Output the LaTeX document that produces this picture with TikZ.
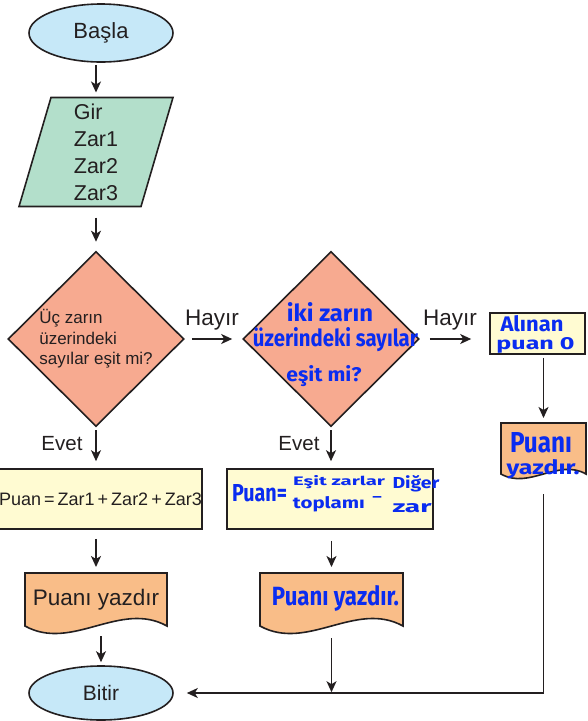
\documentclass[tikz,border=0pt]{standalone}
\usepackage{fontspec}
\setmainfont{Liberation Sans}
\newfontfamily\handfont{Fira Sans}
\usetikzlibrary{shapes.geometric,arrows.meta,calc,backgrounds}

\definecolor{ink}{HTML}{231F20}
\definecolor{termfill}{HTML}{C6E8F8}
\definecolor{parafill}{HTML}{B3DFCB}
\definecolor{decfill}{HTML}{F7AA90}
\definecolor{procfill}{HTML}{FFFBD2}
\definecolor{docfill}{HTML}{F9BD88}
\definecolor{handblue}{HTML}{0A2CF0}

% marker-style writing squeezed into a given width and height
\newcommand\hw[3]{\resizebox{#1}{#2}{\handfont\bfseries #3}}
% printed-output symbol drawn round a rectangular area node
\newcommand\drawdoc[2]{%
  \path[line, fill=docfill] (#1.north west) -- (#1.north east) -- (#1.south east)
    .. controls ($(#1.south east)!0.33!(#1.south west)+(0,-#2)$)
           and ($(#1.south west)!0.33!(#1.south east)+(0,#2)$) .. (#1.south west) -- cycle;}

\tikzset{
  every node/.style={text=ink},
  fs/.style={font=\fontsize{#1}{#1}\selectfont},
  line/.style={draw=ink, line width=1.6pt},
  arr/.style={draw=ink, line width=1.6pt, -{Stealth[length=11pt,width=10pt,inset=3pt]}},
  terminal/.style={ellipse, line, fill=termfill, minimum width=144pt, inner sep=0pt},
  decision/.style={diamond, line, fill=decfill, minimum width=176pt, minimum height=175pt, inner sep=0pt},
  process/.style={rectangle, line, fill=procfill, inner sep=0pt},
  area/.style={rectangle, inner sep=0pt, outer sep=0pt},
  hand/.style={text=handblue, inner sep=0pt},
}

\begin{document}
\begin{tikzpicture}[x=1pt, y=-1pt]
\useasboundingbox (0,0) rectangle (587,721);

% left column
\node[terminal, minimum height=58pt, fs=22] (start) at (101,33) {Başla};
\node[area, minimum width=154pt, minimum height=109pt, align=left,
      font=\fontsize{21.5}{27}\selectfont] (para) at (96,152) {Gir\\Zar1\\Zar2\\Zar3};
\node[decision, align=left, font=\fontsize{17}{20.5}\selectfont] (dia1) at (96,339)
  {Üç zarın\\üzerindeki\\sayılar eşit mi?};
\node[process, minimum width=199pt, minimum height=60pt, fs=18] (box1) at (100.5,499)
  {Puan\,=\,Zar1\,+\,Zar2\,+\,Zar3};
\node[area, minimum width=142pt, minimum height=53pt, fs=22.5] (doc1) at (96,599.5) {Puanı yazdır};
\node[terminal, minimum height=54pt, fs=21] (end) at (101,693) {Bitir};

% middle column
\node[decision] (dia2) at (331,339) {};
\node[hand] (q1) at (330,312) {\hw{86pt}{19pt}{iki zarın}};
\node[hand] (q2) at (335.5,340) {\hw{165pt}{19pt}{üzerindeki sayılar}};
\node[hand] (q3) at (324,376) {\hw{75pt}{16pt}{eşit mi?}};
\node[process, minimum width=206pt, minimum height=60pt] (box2) at (330,499) {};
\node[hand] (f1) at (259.5,493) {\hw{55pt}{17pt}{Puan=}};
\node[hand] (f2) at (339,482) {\hw{92pt}{10pt}{Eşit zarlar}};
\node[hand] (f3) at (329,504) {\hw{72pt}{12pt}{toplamı}};
\node[hand] (f4) at (377,499) {\hw{11pt}{5pt}{-}};
\node[hand] (f5) at (416,484) {\hw{47pt}{13pt}{Diğer}};
\node[hand] (f6) at (412,508) {\hw{39pt}{9pt}{zar}};
\node[area, minimum width=143pt, minimum height=53pt] (doc2) at (331.5,599.5) {};
\node[hand] (p2) at (335.5,598) {\hw{127pt}{20pt}{Puanı yazdır.}};

% right column
\node[process, minimum width=95pt, minimum height=41pt] (box3) at (537.5,333.5) {};
\node[hand] (z1) at (532,324) {\hw{63pt}{16pt}{Alınan}};
\node[hand] (z2) at (535.5,345) {\hw{78pt}{12pt}{puan 0}};
\node[area, minimum width=85pt, minimum height=51pt] (doc3) at (543.5,448.5) {};
\node[hand] (p3a) at (541,443) {\hw{62pt}{20pt}{Puanı}};
\node[hand] (p3b) at (543,469) {\hw{73pt}{15pt}{yazdır.}};

% branch labels
\node[fs=22.5] (h1) at (212,320) {Hayır};
\node[fs=22.5] (h2) at (450,320) {Hayır};
\node[fs=20.5] (e1) at (62,444) {Evet};
\node[fs=20.5] (e2) at (299,444) {Evet};

% outlines drawn behind their texts
\begin{scope}[on background layer]
  \path[line, fill=parafill] ($(para.north west)+(32,0)$) -- (para.north east)
    -- ($(para.south east)+(-32,0)$) -- (para.south west) -- cycle;
  \drawdoc{doc1}{26}
  \drawdoc{doc2}{26}
  \drawdoc{doc3}{16}
\end{scope}

% connectors
\draw[arr, shorten <=2pt, shorten >=5pt] (start.south -| para.north) -- (para.north);
\draw[arr, shorten <=11pt, shorten >=9pt] (para.south) -- (dia1.north);
\draw[arr, shorten <=3pt, shorten >=7pt] (dia1.south) -- (dia1.south |- box1.north);
\draw[arr, shorten <=9pt, shorten >=6pt] (box1.south -| doc1.north) -- (doc1.north);
\draw[arr, shorten <=10pt, shorten >=3pt] (doc1.south -| end.north) -- (end.north);

\draw[arr, shorten <=7pt, shorten >=10pt] (dia1.east) -- (dia2.west);
\draw[arr, shorten <=3pt, shorten >=7pt] (dia2.south) -- (dia2.south |- box2.north);
\draw[arr, shorten <=11pt, shorten >=6pt] (box2.south -| doc2.north) -- (doc2.north);
\draw[arr, shorten <=12pt, shorten >=0.8pt] (doc2.south) -- (doc2.south |- end.east);

\draw[arr, shorten <=10pt, shorten >=18pt] (dia2.east) -- (box3.west |- dia2.east);
\draw[arr, shorten <=3pt, shorten >=5pt] (box3.south -| doc3.north) -- (doc3.north);
\draw[arr, shorten <=20pt, shorten >=13pt] (doc3.south) |- (end.east);
\end{tikzpicture}
\end{document}
